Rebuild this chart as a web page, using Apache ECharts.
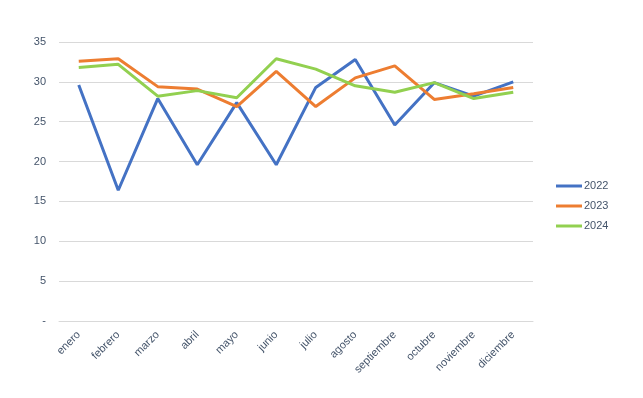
<!DOCTYPE html>
<html>
<head>
<meta charset="utf-8">
<script src="https://cdn.jsdelivr.net/npm/echarts@6/dist/echarts.min.js"></script>
<style>
html, body { margin: 0; padding: 0; background: #fff; }
#chart { width: 643px; height: 398px; }
</style>
</head>
<body>
<div id="chart"></div>
<script>
// meses y valores
const months = ['enero', 'febrero', 'marzo', 'abril', 'mayo', 'junio', 'julio', 'agosto',
  'septiembre', 'octubre', 'noviembre', 'diciembre'];
const yearNames = ['2022', '2023', '2024'];
const values2022 = [29.6, 16.4, 27.9, 19.6, 27.4, 19.6, 29.3, 32.8, 24.6, 29.9, 28.2, 30.0];
const values2023 = [32.6, 32.9, 29.4, 29.1, 26.9, 31.3, 26.9, 30.5, 32.0, 27.8, 28.5, 29.3];
const values2024 = [31.8, 32.2, 28.2, 28.9, 28.0, 32.9, 31.6, 29.5, 28.7, 29.9, 27.9, 28.7];
const colors = ['#4472C4', '#ED7D31', '#92D050'];

const textColor = '#44546A';
const font = 'Liberation Sans';

var myChart = echarts.init(document.getElementById('chart'));
const allValues = [values2022, values2023, values2024];

myChart.setOption({
  animation: false,
  color: colors,
  grid: {
    left: 59,
    right: 110,
    top: 42,
    bottom: 77,
    containLabel: false
  },
  legend: {
    orient: 'vertical',
    left: 551,
    top: 175,
    icon: 'rect',
    itemWidth: 26,
    itemHeight: 3,
    itemGap: 8,
    data: yearNames,
    textStyle: { color: textColor, fontFamily: font, fontSize: 11, lineHeight: 12, padding: [0, 0, 0, -3] }
  },
  xAxis: {
    type: 'category',
    boundaryGap: true,
    data: months,
    axisLine: { lineStyle: { color: '#D9D9D9' } },
    axisTick: { show: false },
    axisLabel: {
      rotate: 45,
      interval: 0,
      color: textColor,
      fontFamily: font,
      fontSize: 11,
      margin: 12
    }
  },
  yAxis: {
    type: 'value',
    min: 0,
    max: 35,
    interval: 5,
    axisLine: { show: false },
    axisTick: { show: false },
    splitLine: { lineStyle: { color: '#D9D9D9' } },
    axisLabel: {
      color: textColor,
      fontFamily: font,
      fontSize: 11,
      margin: 13,
      formatter: function (v) { return v === 0 ? '-' : v; }
    }
  },
  series: yearNames.map(function (name, i) {
    return {
      name: name,
      type: 'line',
      data: allValues[i],
      symbol: 'none',
      lineStyle: { width: 3, color: colors[i] },
      itemStyle: { color: colors[i] }
    };
  })
});
</script>
</body>
</html>
